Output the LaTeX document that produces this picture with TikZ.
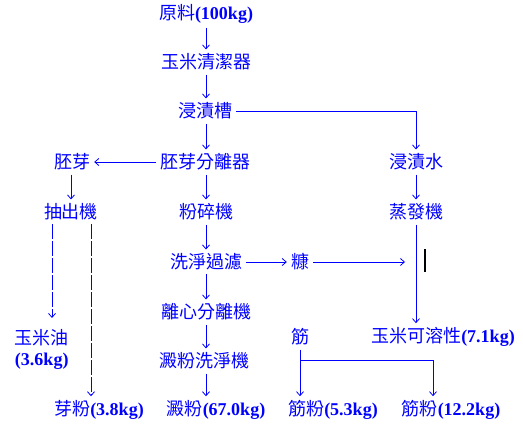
\documentclass[tikz,border=0pt]{standalone}
\usepackage{fontspec}
\usepackage{xcolor}
\usepackage{tikz}
\usetikzlibrary{arrows.meta}
\setmainfont{Liberation Serif}
\newfontfamily\cjk{Noto Sans CJK TC}
\newcommand{\kg}[1]{{\rmfamily\bfseries #1}}

\begin{document}
\begin{tikzpicture}[x=1pt,y=-1pt]
    \tikzstyle{lbl} = [text=blue, inner sep=4pt, font=\cjk\fontsize{18}{21}\selectfont]
    \tikzstyle{flow} = [blue, line width=0.8pt, -{Straight Barb[length=4pt,width=7pt]}]
    \tikzstyle{plain} = [blue, line width=0.8pt]
    \tikzstyle{dsh} = [flow, dash pattern=on 15pt off 2pt]
    \useasboundingbox (0,0) rectangle (523,427);
        %%% main column %%%
        \node[lbl] (raw) at (206,14) {原料\kg{(100kg)}};
        \node[lbl] (clean) at (206,62) {玉米清潔器};
        \node[lbl] (steep) at (205,111) {浸漬槽};
        \node[lbl] (sep) at (205,162) {胚芽分離器};
        \node[lbl] (mill) at (206,212) {粉碎機};
        \node[lbl] (wash) at (206,262) {洗淨過濾};
        \node[lbl] (centri) at (206,312) {離心分離機};
        \node[lbl] (swash) at (204,361) {澱粉洗淨機};
        \node[lbl] (starch) at (216,410) {澱粉\kg{(67.0kg)}};
        \draw[flow] (raw.south -| 206,0) -- (clean.north -| 206,0);
        \draw[flow] (clean.south -| 206,0) -- (steep.north -| 206,0);
        \draw[flow] (steep.south -| 206,0) -- (sep.north -| 206,0);
        \draw[flow] (sep.south -| 206,0) -- (mill.north -| 206,0);
        \draw[flow] (mill.south -| 206,0) -- (wash.north -| 206,0);
        \draw[flow] (wash.south -| 206,0) -- (centri.north -| 206,0);
        \draw[flow] (centri.south -| 206,0) -- (swash.north -| 206,0);
        \draw[flow] (swash.south -| 206,0) -- (starch.north -| 206,0);
        %%% germ %%%
        \node[lbl] (germ) at (72,162) {胚芽};
        \node[lbl] (extr) at (71,212) {抽出機};
        \node[lbl, align=left] (oil) at (42,349) {玉米油\\\kg{(3.6kg)}};
        \node[lbl] (germfl) at (99,410) {芽粉\kg{(3.8kg)}};
        \draw[flow] (sep) -- (germ);
        \draw[flow] (germ.south -| 71,0) -- (extr);
        \draw[dsh] (extr.south -| 52,0) -- (52,318);
        \draw[dsh] (extr.south -| 91,0) -- (germfl.north -| 91,0);
        %%% steep water %%%
        \node[lbl] (water) at (416,162) {浸漬水};
        \node[lbl] (evap) at (416,212) {蒸發機};
        \node[lbl] (solub) at (443,337) {玉米可溶性\kg{(7.1kg)}};
        \draw[flow] (steep.east) -| (water);
        \draw[flow] (water) -- (evap);
        \draw[flow] (evap.south -| 416,0) -- (solub.north -| 416,0);
        %%% bran %%%
        \node[lbl] (bran) at (300,262) {糠};
        \node[fill=black, inner sep=0, minimum width=2.2pt, minimum height=23pt] (bar) at (425,261) {};
        \coordinate (branend) at (405,262);
        \draw[flow] (wash) -- (bran);
        \draw[flow] (bran) -- (branend);
        %%% gluten %%%
        \node[lbl] (glu) at (300,337) {筋};
        \node[lbl] (glufl) at (333,410) {筋粉\kg{(5.3kg)}};
        \node[lbl] (glufr) at (451,410) {筋粉\kg{(12.2kg)}};
        \coordinate (split) at (300,360);
        \coordinate (splitr) at (433,360);
        \draw[plain] (glu.south) -- (split) -- (splitr);
        \draw[flow] (split) -- (glufl.north -| split);
        \draw[flow] (splitr) -- (glufr.north -| splitr);
\end{tikzpicture}
\end{document}
